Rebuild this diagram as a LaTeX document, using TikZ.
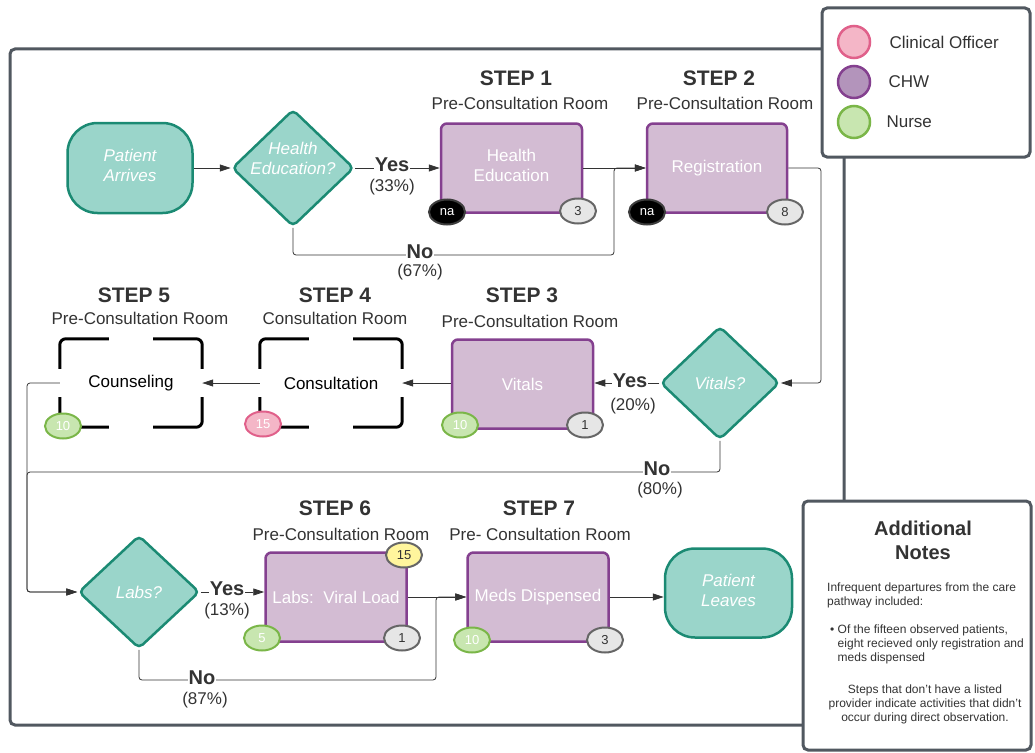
\documentclass[tikz,border=0pt]{standalone}
\usepackage{fontspec}
\setmainfont{Liberation Sans}
\usetikzlibrary{shapes.geometric,arrows.meta,calc}

\definecolor{tealfill}{HTML}{9AD5CA}
\definecolor{tealline}{HTML}{1B8A73}
\definecolor{chwfill}{HTML}{D3BCD3}
\definecolor{chwline}{HTML}{84408F}
\definecolor{chwdot}{HTML}{B394BB}
\definecolor{cofill}{HTML}{F4B6C7}
\definecolor{coline}{HTML}{E0608A}
\definecolor{nursefill}{HTML}{C8E6B0}
\definecolor{nurseline}{HTML}{7AB648}
\definecolor{greyfill}{HTML}{E6E6E6}
\definecolor{greyline}{HTML}{666666}
\definecolor{yellowfill}{HTML}{FFF59D}
\definecolor{framecol}{HTML}{515860}
\definecolor{txt}{HTML}{333333}

\tikzset{
  terminal/.style={rectangle, rounded corners=30pt, fill=tealfill, draw=tealline,
    line width=2.5pt, minimum width=125pt, minimum height=90pt, inner sep=0pt,
    text=white, font=\fontsize{17}{20}\selectfont\itshape, align=center, text depth=6pt},
  decision/.style={diamond, rounded corners=5pt, fill=tealfill, draw=tealline,
    line width=2.5pt, inner sep=0pt, text=white,
    font=\fontsize{17}{20}\selectfont\itshape, align=center},
  dtext/.style={text=white, font=\fontsize{17}{20}\selectfont\itshape, align=center, inner sep=0pt},
  process/.style={rectangle, rounded corners=6pt, fill=chwfill, draw=chwline,
    line width=2.5pt, minimum width=141pt, minimum height=89pt, inner sep=0pt,
    text=white, font=\fontsize{17}{20}\selectfont, align=center},
  openbox/.style={rectangle, minimum width=142pt, minimum height=88pt, inner sep=0pt,
    text=black, font=\fontsize{17}{20}\selectfont},
  bracket/.style={draw=black, line width=3pt, rounded corners=6pt},
  badge/.style={ellipse, minimum width=36pt, minimum height=25pt, inner sep=0pt,
    line width=2pt, font=\fontsize{13}{15}\selectfont},
  nursebadge/.style={badge, fill=nursefill, draw=nurseline, text=white},
  cobadge/.style={badge, fill=cofill, draw=coline, text=white},
  nabadge/.style={badge, fill=black, draw=greyline!60!black, text=white},
  countbadge/.style={badge, fill=greyfill, draw=greyline, text=txt},
  labbadge/.style={badge, fill=yellowfill, draw=greyline, text=txt},
  flow/.style={draw=txt, line width=0.8pt, rounded corners=3pt},
  arr/.style={flow, -{Triangle[length=11pt,width=7pt]}},
  yesno/.style={fill=white, inner sep=1pt, text=txt, font=\fontsize{20}{23}\selectfont\bfseries},
  pct/.style={text=txt, font=\fontsize{17}{20}\selectfont},
  stephead/.style={text=txt, font=\fontsize{21}{24}\selectfont\bfseries},
  room/.style={text=txt, font=\fontsize{17}{20}\selectfont},
  legtext/.style={anchor=west, text=txt, font=\fontsize{17}{20}\selectfont},
  legdot/.style={circle, minimum size=32pt, inner sep=0pt, line width=2.5pt},
  panel/.style={draw=framecol, line width=3pt, rounded corners=5pt, fill=white},
  notetext/.style={text=txt, inner sep=0pt, font=\fontsize{12}{14}\selectfont}
}

\begin{document}
\begin{tikzpicture}[x=1pt,y=-1pt]
\useasboundingbox (0,0) rectangle (1035,752);

% outer frame of the pathway
\draw[draw=framecol, line width=3pt, rounded corners=5pt] (10,49) rectangle (844,725);

% ---------- row 1 ----------
\node[terminal] (pa) at (130,168) {Patient\\Arrives};
\node[decision, minimum width=122pt, minimum height=117pt,
  label={[dtext, yshift=10pt]center:{Health\\Education?}}] (hd) at (293,168) {};
\node[process, text depth=6pt] (s1) at (511.5,168) {Health\\Education};
\node[process, minimum width=140pt] (s2) at (717,168) {Registration};

\node[stephead] (h1) at (516,78) {STEP 1};
\node[room] (r1) at (520,103) {Pre-Consultation Room};
\node[stephead] (h2) at (719,78) {STEP 2};
\node[room] (r2) at (725,103) {Pre-Consultation Room};

% ---------- row 2 ----------
\node[decision, minimum width=119pt, minimum height=113pt] (vd) at (720,383) {Vitals?};
\node[process] (s3) at (522.5,384) {Vitals};
\node[openbox] (s4) at (331,383) {Consultation};
\node[openbox] (s5) at (131,383) {Counseling};

\node[stephead] (h3) at (522,295) {STEP 3};
\node[room] (r3) at (530,321) {Pre-Consultation Room};
\node[stephead] (h4) at (335,295) {STEP 4};
\node[room] (r4) at (335,318) {Consultation Room};
\node[stephead] (h5) at (134,295) {STEP 5};
\node[room] (r5) at (140,318) {Pre-Consultation Room};

% corner brackets of the open boxes
\foreach \n in {s4,s5} {
  \draw[bracket] ($(\n.north west)+(0,30)$) -- (\n.north west) -- ($(\n.north west)+(49,0)$);
  \draw[bracket] ($(\n.north east)+(-49,0)$) -- (\n.north east) -- ($(\n.north east)+(0,30)$);
  \draw[bracket] ($(\n.south west)+(0,-30)$) -- (\n.south west) -- ($(\n.south west)+(49,0)$);
  \draw[bracket] ($(\n.south east)+(-49,0)$) -- (\n.south east) -- ($(\n.south east)+(0,-30)$);
}

% ---------- row 3 ----------
\node[decision, minimum width=121pt, minimum height=113pt] (ld) at (139,592) {Labs?};
\node[process] (s6) at (336,597) {Labs:\ \ Viral Load};
\node[process] (s7) at (538,597) {Meds Dispensed};
\node[terminal, minimum width=127pt, minimum height=89pt] (pl) at (728.5,593) {Patient\\Leaves};

\node[stephead] (h6) at (335,508) {STEP 6};
\node[room] (r6) at (341,534) {Pre-Consultation Room};
\node[stephead] (h7) at (539,508) {STEP 7};
\node[room] (r7) at (540,534) {Pre- Consultation Room};

% ---------- junction points ----------
\coordinate (j1) at (614,255);
\coordinate (j2) at (821,383);
\coordinate (j3) at (27,592);
\coordinate (j4) at (27,472);
\coordinate (j5) at (436,680);

% ---------- connectors ----------
\draw[arr] (pa.east) -- (hd.west);
\draw[arr] (hd.east) -- (s1.west);
\draw[arr] (s1.east) -- (s2.west);
\draw[arr] (hd.south) |- (j1) |- (s2.west);
\draw[arr] (s2.east) -| (j2) -- (vd.east);
\draw[arr] (vd.west) -- (vd.west -| s3.east);
\draw[arr] (vd.west -| s3.west) -- (s4.east);
\draw[arr] (s4.west) -- (s5.east);
\draw[arr] (s5.west) -| (j3) -- (ld.west);
\draw[arr] (vd.south) |- (j4) -- (j3) -- (ld.west);
\draw[arr] (ld.east) -- (ld.east -| s6.west);
\draw[arr] (s6.east) -- (s7.west);
\draw[arr] (ld.south) |- (j5) |- (s7.west);
\draw[arr] (s7.east) -- (s7.east -| pl.west);

% branch labels
\node[yesno] (y1) at (392,165) {Yes};
\node[pct] (y1p) at (392,187) {(33\%)};
\node[yesno] (n1) at (420,252) {No};
\node[pct] (n1p) at (420,272) {(67\%)};
\node[yesno] (y2) at (630,381) {Yes};
\node[pct] (y2p) at (633,406) {(20\%)};
\node[yesno] (n2) at (657,469) {No};
\node[pct] (n2p) at (660,490) {(80\%)};
\node[yesno] (y3) at (227,589) {Yes};
\node[pct] (y3p) at (227,611) {(13\%)};
\node[yesno] (n3) at (202,678) {No};
\node[pct] (n3p) at (205,700) {(87\%)};

% ---------- provider and count badges ----------
\node[nabadge] (b1a) at (447,212) {na};
\node[countbadge] (b1b) at (578,211) {3};
\node[nabadge] (b2a) at (647,212) {na};
\node[countbadge] (b2b) at (785,212) {8};
\node[nursebadge] (b3a) at (460,425) {10};
\node[countbadge] (b3b) at (585,425) {1};
\node[cobadge] (b4a) at (263,424) {15};
\node[nursebadge] (b5a) at (63,426) {10};
\node[labbadge] (b6c) at (404,555) {15};
\node[nursebadge] (b6a) at (262,638) {5};
\node[countbadge] (b6b) at (402,638) {1};
\node[nursebadge] (b7a) at (472,640) {10};
\node[countbadge] (b7b) at (605,640) {3};

% ---------- legend ----------
\draw[panel] (822,8) rectangle (1030,157);
\node[legdot, fill=cofill, draw=coline] (lg1) at (854,42) {};
\node[legdot, fill=chwdot, draw=chwline] (lg2) at (854,82) {};
\node[legdot, fill=nursefill, draw=nurseline] (lg3) at (854,122) {};
\node[legtext] (lt1) at (886,42) {Clinical Officer};
\node[legtext] (lt2) at (885,82) {CHW};
\node[legtext] (lt3) at (883,122) {Nurse};

% ---------- notes ----------
\draw[panel] (803,501) rectangle (1031,750);
\node[text=txt, align=center, font=\fontsize{20}{24}\selectfont\bfseries] (nt) at (923,540) {Additional\\Notes};
\node[notetext, anchor=north west, align=left] (np1) at (827,583)
  {Infrequent departures from the care\\pathway included:};
\node[notetext, anchor=north west, align=left] (np2) at (830,625)
  {\textbullet\ Of the fifteen observed patients,\\\hphantom{\textbullet\ }eight recieved only registration and\\\hphantom{\textbullet\ }meds dispensed};
\node[notetext, anchor=north, align=center] (np3) at (925,685)
  {Steps that don't have a listed\\provider indicate activities that didn't\\occur during direct observation.};

\end{tikzpicture}
\end{document}
